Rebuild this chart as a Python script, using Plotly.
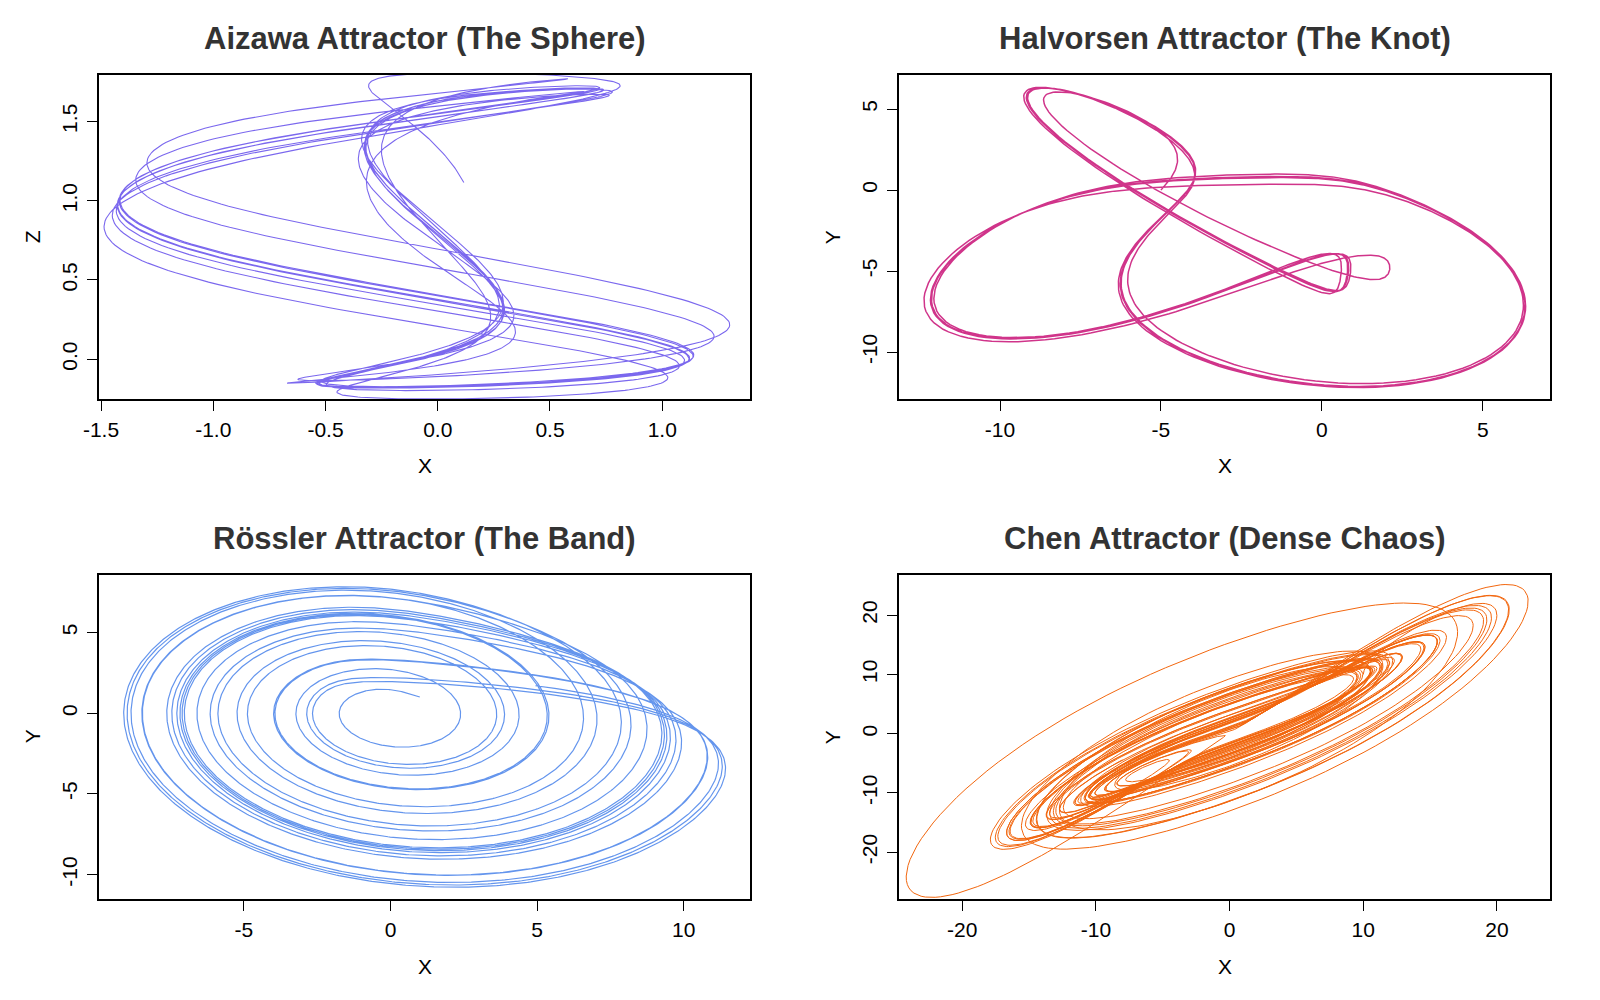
import plotly.graph_objects as go

# ---------------- data: system parameters, start states, time windows ----------------
# Aizawa (a, b, c, d, e, f)
aizawa_params = [0.95, 0.7, 0.63, 3.5, 0.25, 0.1]
aizawa_start = [0.1, 0.0, 0.0]
aizawa_time = [0.0, 70.0, 0.01, 20.0]      # t0, t1, dt, first time shown

# Halvorsen (a)
halvorsen_params = [1.89]
halvorsen_start = [-5.0, 0.0, 0.0]
halvorsen_time = [0.0, 30.0, 0.005, 0.0]

# Rossler (a, b, c)
rossler_params = [0.2, 0.2, 5.7]
rossler_start = [1.0, 1.0, 1.0]
rossler_time = [0.0, 130.0, 0.01, 0.0]

# Chen (a, b, c)
chen_params = [35.0, 3.0, 28.0]
chen_start = [10.0, 10.0, 10.0]
chen_time = [0.0, 28.0, 0.002, 0.0]

titles = ["Aizawa Attractor (The Sphere)", "Halvorsen Attractor (The Knot)",
          "Rössler Attractor (The Band)", "Chen Attractor (Dense Chaos)"]
colors = ["#7B68EE", "#D0348A", "#6495ED", "#F2670F"]
y_titles = ["Z", "Y", "Y", "Y"]

aizawa_xticks = [-1.5, -1.0, -0.5, 0.0, 0.5, 1.0]
aizawa_zticks = [0.0, 0.5, 1.0, 1.5]
halvorsen_xticks = [-10, -5, 0, 5]
halvorsen_yticks = [-10, -5, 0, 5]
rossler_xticks = [-5, 0, 5, 10]
rossler_yticks = [-10, -5, 0, 5]
chen_xticks = [-20, -10, 0, 10, 20]
chen_yticks = [-20, -10, 0, 10, 20]


# ---------------- integration (RK4) ----------------
def rk4(f, s, t0, t1, dt, tshow):
    n = int(round((t1 - t0) / dt))
    skip = int(round((tshow - t0) / dt))
    x, y, z = s
    xs, ys, zs = [], [], []
    for i in range(n + 1):
        if i >= skip:
            xs.append(x); ys.append(y); zs.append(z)
        a1 = f(x, y, z)
        a2 = f(x + 0.5 * dt * a1[0], y + 0.5 * dt * a1[1], z + 0.5 * dt * a1[2])
        a3 = f(x + 0.5 * dt * a2[0], y + 0.5 * dt * a2[1], z + 0.5 * dt * a2[2])
        a4 = f(x + dt * a3[0], y + dt * a3[1], z + dt * a3[2])
        x += dt / 6 * (a1[0] + 2 * a2[0] + 2 * a3[0] + a4[0])
        y += dt / 6 * (a1[1] + 2 * a2[1] + 2 * a3[1] + a4[1])
        z += dt / 6 * (a1[2] + 2 * a2[2] + 2 * a3[2] + a4[2])
    return xs, ys, zs


def aizawa(x, y, z):
    a, b, c, d, e, f = aizawa_params
    return ((z - b) * x - d * y,
            d * x + (z - b) * y,
            c + a * z - z ** 3 / 3 - (x * x + y * y) * (1 + e * z) + f * z * x ** 3)


def halvorsen(x, y, z):
    a = halvorsen_params[0]
    return (-a * x - 4 * y - 4 * z - y * y,
            -a * y - 4 * z - 4 * x - z * z,
            -a * z - 4 * x - 4 * y - x * x)


def rossler(x, y, z):
    a, b, c = rossler_params
    return (-y - z, x + a * y, b + z * (x - c))


def chen(x, y, z):
    a, b, c = chen_params
    return (a * (y - x), (c - a) * x - x * z + c * y, x * y - b * z)


ax_, ay_, az_ = rk4(aizawa, aizawa_start, *aizawa_time)
hx, hy, hz = rk4(halvorsen, halvorsen_start, *halvorsen_time)
rx, ry, rz = rk4(rossler, rossler_start, *rossler_time)
cx, cy, cz = rk4(chen, chen_start, *chen_time)

series = [(ax_, az_), (hx, hy), (rx, ry), (cx, cy)]
xticks = [aizawa_xticks, halvorsen_xticks, rossler_xticks, chen_xticks]
yticks = [aizawa_zticks, halvorsen_yticks, rossler_yticks, chen_yticks]
tickfmt = ["{:.1f}", "{:d}", "{:d}", "{:d}"]

# ---------------- layout ----------------
W, H = 1600, 1000
col_x = [(99, 750), (899, 1550)]
row_y = [(74.5, 399), (574.5, 899)]
x_ranges = [[-1.509, 1.391], [-13.14, 7.09], [-9.94, 12.26], [-24.73, 23.97]]
y_ranges = [[-0.251, 1.796], [-12.9, 7.14], [-11.51, 8.59], [-27.9, 26.87]]
line_widths = [1.1, 1.5, 1.2, 1.0]

fig = go.Figure()
annotations = []
layout = dict(width=W, height=H, margin=dict(l=0, r=0, t=0, b=0, autoexpand=False),
              paper_bgcolor="white", plot_bgcolor="white", showlegend=False,
              font=dict(family="Liberation Sans, Arial, sans-serif", color="black"))

for k in range(4):
    r, c = divmod(k, 2)
    xa = "xaxis" if k == 0 else f"xaxis{k + 1}"
    ya = "yaxis" if k == 0 else f"yaxis{k + 1}"
    xref = "x" if k == 0 else f"x{k + 1}"
    yref = "y" if k == 0 else f"y{k + 1}"
    x0, x1 = col_x[c]
    y0, y1 = row_y[r]
    fmt = tickfmt[k]
    layout[xa] = dict(domain=[x0 / W, x1 / W], range=x_ranges[k], anchor=yref,
                      automargin=False,
                      showgrid=False, zeroline=False, showline=True, mirror=True,
                      linecolor="black", linewidth=1.5, ticks="outside", ticklen=10,
                      tickwidth=1.2, tickcolor="black",
                      tickvals=xticks[k], ticktext=[fmt.format(v) for v in xticks[k]],
                      tickfont=dict(size=21, color="black"), ticklabelstandoff=1)
    layout[ya] = dict(domain=[1 - y1 / H, 1 - y0 / H], range=y_ranges[k], anchor=xref,
                      automargin=False,
                      showgrid=False, zeroline=False, showline=True, mirror=True,
                      linecolor="black", linewidth=1.5, ticks="outside", ticklen=10,
                      tickwidth=1.2, tickcolor="black", tickangle=-90,
                      tickvals=yticks[k], ticktext=[fmt.format(v) for v in yticks[k]],
                      tickfont=dict(size=21, color="black"), ticklabelstandoff=2)
    xs, ys = series[k]
    fig.add_trace(go.Scatter(x=xs, y=ys, mode="lines", xaxis=xref, yaxis=yref,
                             line=dict(color=colors[k], width=line_widths[k]),
                             hoverinfo="skip"))
    cxp = (x0 + x1) / 2 / W
    annotations.append(dict(text="<b>" + titles[k] + "</b>", x=cxp, y=1 - (y0 - 36.5) / H,
                            xref="paper", yref="paper", showarrow=False,
                            xanchor="center", yanchor="middle",
                            font=dict(size=31, color="#333333")))
    annotations.append(dict(text="X", x=cxp, y=1 - (y1 + 67) / H, xref="paper", yref="paper",
                            showarrow=False, xanchor="center", yanchor="middle",
                            font=dict(size=21, color="black")))
    annotations.append(dict(text=y_titles[k], x=(x0 - 66.5) / W, y=1 - (y0 + y1) / 2 / H,
                            xref="paper", yref="paper", showarrow=False, textangle=-90,
                            xanchor="center", yanchor="middle",
                            font=dict(size=21, color="black")))

layout["annotations"] = annotations
fig.update_layout(**layout)
fig.write_html("out.html")
